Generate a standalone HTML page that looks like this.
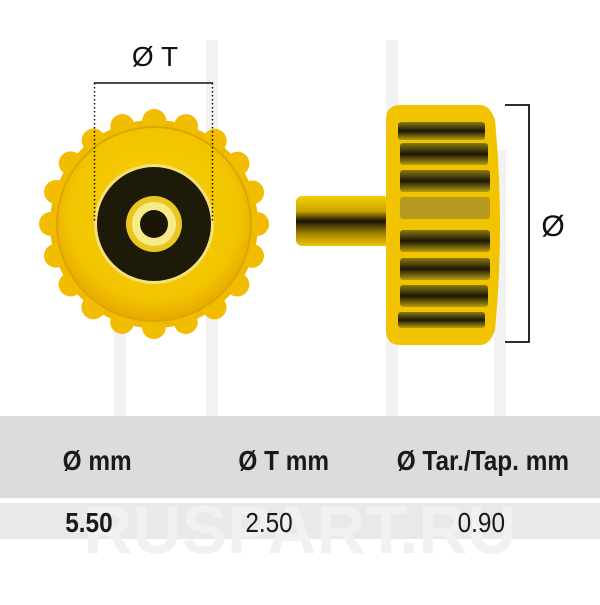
<!DOCTYPE html>
<html><head><meta charset="utf-8"><style>
body{margin:0;width:600px;height:600px;background:#fff;overflow:hidden;font-family:"Liberation Sans",sans-serif}
</style></head><body>
<svg width="600" height="600" viewBox="0 0 600 600" xmlns="http://www.w3.org/2000/svg">
<defs>
<radialGradient id="gold" cx="50%" cy="45%" r="55%">
<stop offset="0" stop-color="#f5d40a"/><stop offset="0.8" stop-color="#f2c400"/><stop offset="1" stop-color="#e8a800"/>
</radialGradient>
<linearGradient id="rib" x1="0" y1="0" x2="0" y2="1">
<stop offset="0" stop-color="#8a7a10"/><stop offset="0.5" stop-color="#1c1705"/><stop offset="1" stop-color="#b89c10"/>
</linearGradient>
<linearGradient id="shaft" x1="0" y1="0" x2="0" y2="1">
<stop offset="0" stop-color="#f4cf00"/><stop offset="0.3" stop-color="#c9a400"/><stop offset="0.5" stop-color="#1a1405"/><stop offset="0.75" stop-color="#a08000"/><stop offset="1" stop-color="#f2c800"/>
</linearGradient>
</defs>
<g fill="none" stroke="#f2f2f2" stroke-width="12">
<path d="M212 40 V440 H392 V40"/>
<path d="M120 120 V440"/><path d="M500 150 V440"/>
</g>
<rect x="0" y="416" width="600" height="82" fill="#dcdcdc"/>
<rect x="0" y="503" width="600" height="36" fill="#e9e9e9"/>
<text x="300" y="553" text-anchor="middle" font-size="68" font-weight="bold" fill="#f1f1f1" font-family="Liberation Sans">RUSPART.RU</text>
<g font-family="Liberation Sans Narrow, Liberation Sans, sans-serif" font-weight="bold" font-size="28" fill="#1a1a1a" transform="scale(0.87,1)">
<text x="72" y="470">Ø mm</text>
<text x="274" y="470">Ø T mm</text>
<text x="456" y="470">Ø Tar./Tap. mm</text>
<text x="75" y="532">5.50</text>
</g>
<g font-family="Liberation Sans, sans-serif" font-size="28" fill="#1a1a1a" transform="scale(0.87,1)">
<text x="282" y="532">2.50</text>
<text x="526" y="532">0.90</text>
</g>
<circle cx="154" cy="224" r="104" fill="#f0b800"/>
<circle cx="154" cy="224" r="103" fill="none" stroke="#f2bc00" stroke-width="24" stroke-linecap="round" stroke-dasharray="0 32.36"/>
<circle cx="154" cy="224" r="97" fill="url(#gold)" stroke="#d8a800" stroke-width="2"/>
<circle cx="154" cy="224" r="60" fill="#f4e07a"/>
<circle cx="154" cy="224" r="57" fill="#1e1a08"/>
<circle cx="154" cy="224" r="28" fill="#e9c620"/>
<circle cx="154" cy="224" r="22" fill="#f7ea8a"/>
<circle cx="154" cy="224" r="14" fill="#1a1505"/>
<line x1="94" y1="83" x2="213" y2="83" stroke="#111" stroke-width="1.5"/>
<line x1="94.5" y1="83" x2="94.5" y2="222" stroke="#111" stroke-width="1.5" stroke-dasharray="1.5 2.5"/>
<line x1="212.5" y1="83" x2="212.5" y2="222" stroke="#111" stroke-width="1.5" stroke-dasharray="1.5 2.5"/>
<text x="155" y="66" text-anchor="middle" font-size="28" fill="#111">Ø T</text>
<rect x="296" y="196" width="94" height="50" rx="6" fill="url(#shaft)"/>
<path d="M400 105 H480 Q490 105 495 120 Q505 225 495 330 Q490 345 480 345 H400 Q386 345 386 330 V120 Q386 105 400 105Z" fill="#f2c400"/>
<g fill="url(#rib)">
<rect x="398" y="122" width="87" height="18" rx="3"/>
<rect x="400" y="143" width="88" height="22" rx="3"/>
<rect x="400" y="170" width="90" height="22" rx="3"/>
<rect x="400" y="197" width="90" height="22" rx="3" fill="#b89a20"/>
<rect x="400" y="230" width="90" height="22" rx="3"/>
<rect x="400" y="258" width="90" height="22" rx="3"/>
<rect x="400" y="285" width="88" height="22" rx="3"/>
<rect x="398" y="312" width="87" height="16" rx="3"/>
</g>
<path d="M505 105 H529 V342 H505" fill="none" stroke="#111" stroke-width="1.8"/>
<text x="553" y="236" text-anchor="middle" font-size="30" fill="#111">Ø</text>
</svg>
</body></html>
